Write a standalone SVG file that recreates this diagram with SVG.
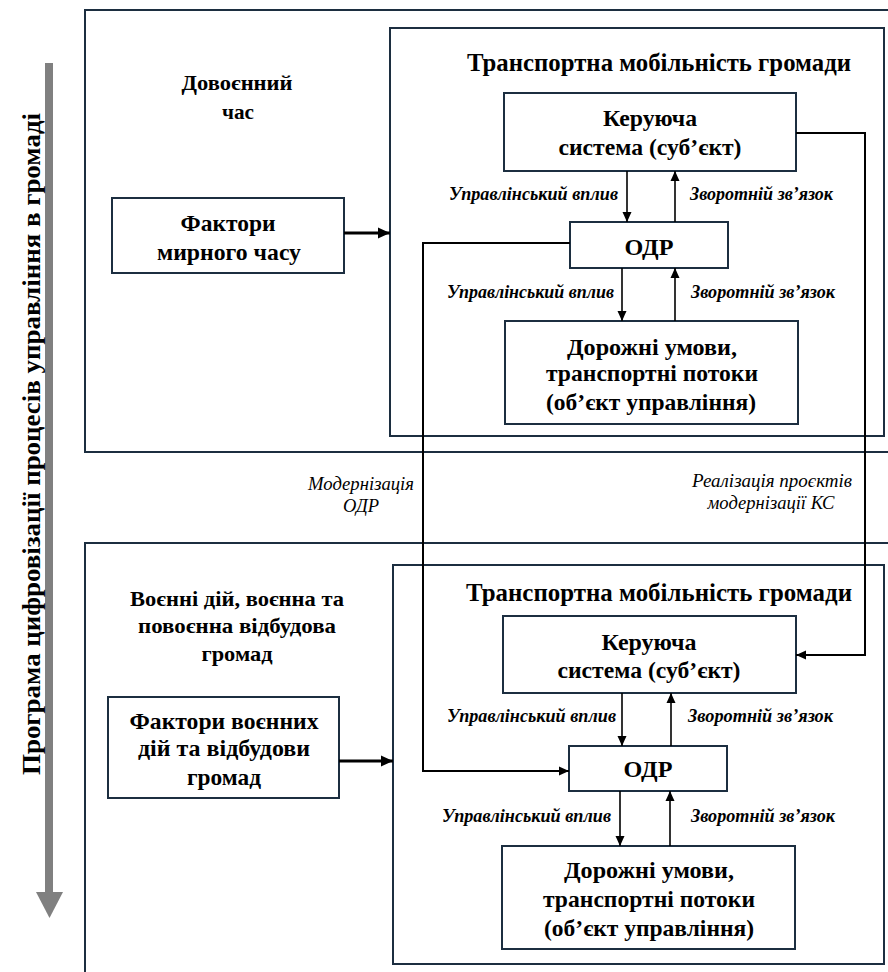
<svg xmlns="http://www.w3.org/2000/svg" width="888" height="972" viewBox="0 0 888 972">
<defs>
<style>
.frame{fill:none;stroke:#1c2e40;stroke-width:2}
.box{fill:#fff;stroke:#1c2e40;stroke-width:2}
.conn{fill:none;stroke:#000;stroke-width:1.6}
.thick{fill:none;stroke:#000;stroke-width:3.2}
.t{font-family:'Liberation Serif','Times New Roman',serif;font-weight:bold;fill:#000;text-anchor:middle}
.big{font-size:23.5px}
.title{font-size:25px}
.side{font-size:22px}
.lbl{font-family:'Liberation Serif','Times New Roman',serif;font-weight:bold;font-style:italic;font-size:18px;fill:#000}
.mid{font-family:'Liberation Serif','Times New Roman',serif;font-style:italic;font-size:18.5px;fill:#000;text-anchor:middle}
</style>
<marker id="ah" markerUnits="userSpaceOnUse" markerWidth="10" markerHeight="10" refX="10" refY="5" orient="auto">
<path d="M0,0.5 L10,5 L0,9.5 z" fill="#000"/>
</marker>
<marker id="ahb" markerUnits="userSpaceOnUse" markerWidth="12" markerHeight="12" refX="12" refY="6" orient="auto">
<path d="M0,0.5 L12,6 L0,11.5 z" fill="#000"/>
</marker>
</defs>
<rect width="888" height="972" fill="#fff"/>

<g id="program-arrow">
<rect x="45" y="63" width="8" height="830" fill="#808080"/>
<polygon points="36,892 63,892 49.5,918" fill="#808080"/>
<text class="t" font-size="26" transform="translate(40,444) rotate(-90)" x="0" y="0" textLength="662" lengthAdjust="spacingAndGlyphs">Програма цифровізації процесів управління в громаді</text>
</g>

<g id="prewar-frame">
<rect class="frame" x="85" y="10" width="820" height="442"/>
<text class="t side" x="237" y="90" textLength="111" lengthAdjust="spacingAndGlyphs">Довоєнний</text>
<text class="t side" x="238" y="119" textLength="32" lengthAdjust="spacingAndGlyphs">час</text>
</g>
<g id="prewar-mobility">
<rect class="frame" x="390" y="28" width="494" height="408"/>
<text class="t title" x="659" y="71" textLength="384" lengthAdjust="spacingAndGlyphs">Транспортна мобільність громади</text>
</g>
<g id="prewar-factors">
<rect class="box" x="112" y="198" width="232" height="75"/>
<text class="t big" x="228" y="231" textLength="95" lengthAdjust="spacingAndGlyphs">Фактори</text>
<text class="t big" x="229" y="260" textLength="144" lengthAdjust="spacingAndGlyphs">мирного часу</text>
</g>
<g id="prewar-control">
<rect class="box" x="504" y="93" width="292" height="78"/>
<text class="t big" x="650" y="126" textLength="94" lengthAdjust="spacingAndGlyphs">Керуюча</text>
<text class="t big" x="650" y="155" textLength="183" lengthAdjust="spacingAndGlyphs">система (суб’єкт)</text>
</g>
<g id="prewar-odr">
<rect class="box" x="570" y="222" width="158" height="46"/>
<text class="t big" x="649" y="255" textLength="49" lengthAdjust="spacingAndGlyphs">ОДР</text>
</g>
<g id="prewar-road">
<rect class="box" x="505" y="321" width="293" height="103"/>
<text class="t big" x="652" y="355" textLength="170" lengthAdjust="spacingAndGlyphs">Дорожні умови,</text>
<text class="t big" x="652" y="381" textLength="212" lengthAdjust="spacingAndGlyphs">транспортні потоки</text>
<text class="t big" x="651" y="410" textLength="210" lengthAdjust="spacingAndGlyphs">(об’єкт управління)</text>
</g>

<g id="war-frame">
<rect class="frame" x="85" y="543" width="820" height="450"/>
<text class="t side" x="237" y="606" textLength="214" lengthAdjust="spacingAndGlyphs">Воєнні дій, воєнна та</text>
<text class="t side" x="237" y="633" textLength="198" lengthAdjust="spacingAndGlyphs">повоєнна відбудова</text>
<text class="t side" x="237" y="661" textLength="71" lengthAdjust="spacingAndGlyphs">громад</text>
</g>
<g id="war-mobility">
<rect class="frame" x="393" y="565" width="491" height="399"/>
<text class="t title" x="659" y="601" textLength="386" lengthAdjust="spacingAndGlyphs">Транспортна мобільність громади</text>
</g>
<g id="war-factors">
<rect class="box" x="108" y="697" width="231" height="101"/>
<text class="t big" x="224" y="729" textLength="189" lengthAdjust="spacingAndGlyphs">Фактори воєнних</text>
<text class="t big" x="224" y="756" textLength="172" lengthAdjust="spacingAndGlyphs">дій та відбудови</text>
<text class="t big" x="224" y="785" textLength="74" lengthAdjust="spacingAndGlyphs">громад</text>
</g>
<g id="war-control">
<rect class="box" x="503" y="616" width="293" height="77"/>
<text class="t big" x="649" y="650" textLength="95" lengthAdjust="spacingAndGlyphs">Керуюча</text>
<text class="t big" x="649" y="678" textLength="183" lengthAdjust="spacingAndGlyphs">система (суб’єкт)</text>
</g>
<g id="war-odr">
<rect class="box" x="569" y="746" width="158" height="45"/>
<text class="t big" x="648" y="777" textLength="49" lengthAdjust="spacingAndGlyphs">ОДР</text>
</g>
<g id="war-road">
<rect class="box" x="502" y="846" width="293" height="103"/>
<text class="t big" x="649" y="878" textLength="170" lengthAdjust="spacingAndGlyphs">Дорожні умови,</text>
<text class="t big" x="649" y="907" textLength="212" lengthAdjust="spacingAndGlyphs">транспортні потоки</text>
<text class="t big" x="649" y="936" textLength="210" lengthAdjust="spacingAndGlyphs">(об’єкт управління)</text>
</g>

<g id="connectors">
<line class="thick" x1="344" y1="233" x2="390" y2="233" marker-end="url(#ahb)"/>
<line class="thick" x1="339" y1="761" x2="393" y2="761" marker-end="url(#ahb)"/>
<line class="conn" x1="627" y1="171" x2="627" y2="222" marker-end="url(#ah)"/>
<line class="conn" x1="675" y1="222" x2="675" y2="171" marker-end="url(#ah)"/>
<line class="conn" x1="622" y1="268" x2="622" y2="321" marker-end="url(#ah)"/>
<line class="conn" x1="675" y1="321" x2="675" y2="268" marker-end="url(#ah)"/>
<line class="conn" x1="622" y1="693" x2="622" y2="746" marker-end="url(#ah)"/>
<line class="conn" x1="671" y1="746" x2="671" y2="693" marker-end="url(#ah)"/>
<line class="conn" x1="620" y1="791" x2="620" y2="846" marker-end="url(#ah)"/>
<line class="conn" x1="670" y1="846" x2="670" y2="791" marker-end="url(#ah)"/>
<polyline class="conn" style="stroke-width:2" points="570,243 423,243 423,771 569,771" marker-end="url(#ah)"/>
<polyline class="conn" style="stroke-width:2" points="796,133 865,133 865,655 796,655" marker-end="url(#ah)"/>
<text class="lbl" x="618" y="200" text-anchor="end" textLength="169" lengthAdjust="spacingAndGlyphs">Управлінський вплив</text>
<text class="lbl" x="690" y="200" textLength="143" lengthAdjust="spacingAndGlyphs">Зворотній зв’язок</text>
<text class="lbl" x="614" y="298" text-anchor="end" textLength="167" lengthAdjust="spacingAndGlyphs">Управлінський вплив</text>
<text class="lbl" x="691" y="298" textLength="144" lengthAdjust="spacingAndGlyphs">Зворотній зв’язок</text>
<text class="lbl" x="616" y="722" text-anchor="end" textLength="169" lengthAdjust="spacingAndGlyphs">Управлінський вплив</text>
<text class="lbl" x="688" y="722" textLength="145" lengthAdjust="spacingAndGlyphs">Зворотній зв’язок</text>
<text class="lbl" x="611" y="822" text-anchor="end" textLength="169" lengthAdjust="spacingAndGlyphs">Управлінський вплив</text>
<text class="lbl" x="691" y="822" textLength="144" lengthAdjust="spacingAndGlyphs">Зворотній зв’язок</text>
<text class="mid" x="361" y="490" textLength="106" lengthAdjust="spacingAndGlyphs">Модернізація</text>
<text class="mid" x="361" y="512" textLength="36" lengthAdjust="spacingAndGlyphs">ОДР</text>
<text class="mid" x="772" y="487" textLength="160" lengthAdjust="spacingAndGlyphs">Реалізація проєктів</text>
<text class="mid" x="771" y="509" textLength="127" lengthAdjust="spacingAndGlyphs">модернізації КС</text>
</g>
</svg>
